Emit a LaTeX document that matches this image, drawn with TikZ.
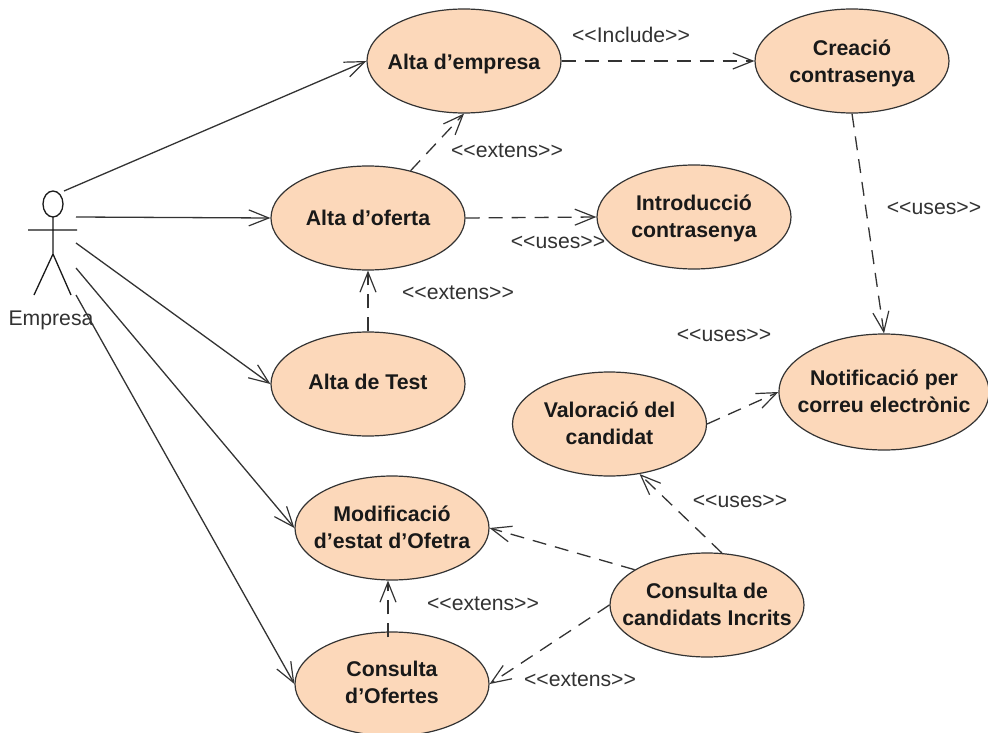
\documentclass[tikz,border=0pt]{standalone}
\usepackage{fontspec}
\setmainfont{Liberation Sans}
\usetikzlibrary{shapes.geometric,arrows.meta}
\definecolor{uc}{RGB}{252,216,186}
\definecolor{txt}{RGB}{50,50,50}
\newcommand{\gs}{<{}<}
\newcommand{\ls}{>{}>}
\tikzset{
 usecase/.style={ellipse,draw=black!80,line width=1.2pt,fill=uc,inner sep=0pt,minimum width=194pt,minimum height=104pt},
 uctext/.style={align=center,font=\fontsize{21.3}{27}\selectfont\bfseries,text=black!90,inner sep=0pt,yshift=#1pt},
 lab/.style={font=\fontsize{21.2}{24}\selectfont,text=txt,inner sep=0pt},
 assoc/.style={draw=black!80,line width=1.3pt,-{Straight Barb[length=20pt,width=16pt,line width=1.2pt]}},
 dep/.style={assoc,dash pattern=on 14pt off 9pt},
 stick/.style={draw=black!90,line width=1.3pt}
}
\begin{document}
\begin{tikzpicture}[x=1pt,y=-1pt]
\useasboundingbox (0,0) rectangle (988,733);
\node[usecase,label={[uctext=-2.5]center:{Alta d’empresa}}] (empresa) at (464,61) {};
\node[usecase,label={[uctext=-2.5]center:{Creació\\contrasenya}}] (contra) at (852,61) {};
\node[usecase,label={[uctext=0.5]center:{Alta d’oferta}}] (oferta) at (368,218) {};
\node[usecase,label={[uctext=-1.5]center:{Introducció\\contrasenya}}] (intro) at (694,217) {};
\node[usecase,label={[uctext=2]center:{Alta de Test}}] (test) at (368,384) {};
\node[usecase,minimum width=210pt,minimum height=116pt,label={[uctext=1]center:{Notificació per\\correu electrònic}}] (notif) at (884,392) {};
\node[usecase,label={[uctext=0.5]center:{Valoració del\\candidat}}] (valor) at (609.5,424) {};
\node[usecase,label={[uctext=1]center:{Modificació\\d’estat d’Ofetra}}] (modif) at (392,528) {};
\node[usecase,label={[uctext=1.5]center:{Consulta\\d’Ofertes}}] (consof) at (392,684) {};
\node[usecase,label={[uctext=0.5]center:{Consulta de\\candidats Incrits}}] (conscand) at (707,605) {};
% actor
\draw[stick] (53,204) ellipse (10pt and 13pt);
\draw[stick] (53,217) -- (53,254) (28,230) -- (77,230) (53,254) -- (34,295) (53,254) -- (71,295);
\node[lab,anchor=center] (actor) at (51,320) {Empresa};
\coordinate (a1) at (64,191);
\coordinate (a2) at (76,217);
\coordinate (a3) at (76,243);
\coordinate (a4) at (76,268);
\coordinate (a5) at (76,295);
\draw[assoc] (a1) -- (empresa.west);
\draw[assoc] (a2) -- (oferta.west);
\draw[assoc] (a3) -- (test.west);
\draw[assoc] (a4) -- (modif.west);
\draw[assoc] (a5) -- (consof.west);
% dependencies
\draw[dep] (empresa.east) -- (contra.west);
\draw[dep] (oferta.48) -- (empresa.south);
\draw[dep] (oferta.east) -- (intro.west);
\draw[dep] (test.north) -- (oferta.south);
\draw[dep] (contra.south) -- (notif.north);
\draw[dep] (valor.east) -- (notif.west);
\draw[dep] (conscand.74) -- (valor.-59);
\draw[dep] (conscand.154) -- (modif.east);
\draw[dep] (conscand.west) -- (consof.east);
\draw[dep] ([xshift=-4pt,yshift=-6pt]consof.north) -- ([xshift=-4pt]modif.south);
% labels
\node[lab] (l1) at (631,35) {\gs Include\ls};
\node[lab] (l2) at (507,151) {\gs extens\ls};
\node[lab] (l3) at (934,208) {\gs uses\ls};
\node[lab] (l4) at (558,242) {\gs uses\ls};
\node[lab] (l5) at (458,293) {\gs extens\ls};
\node[lab] (l6) at (724,335) {\gs uses\ls};
\node[lab] (l7) at (740,501) {\gs uses\ls};
\node[lab] (l8) at (483,604) {\gs extens\ls};
\node[lab] (l9) at (580,680) {\gs extens\ls};
\end{tikzpicture}
\end{document}
